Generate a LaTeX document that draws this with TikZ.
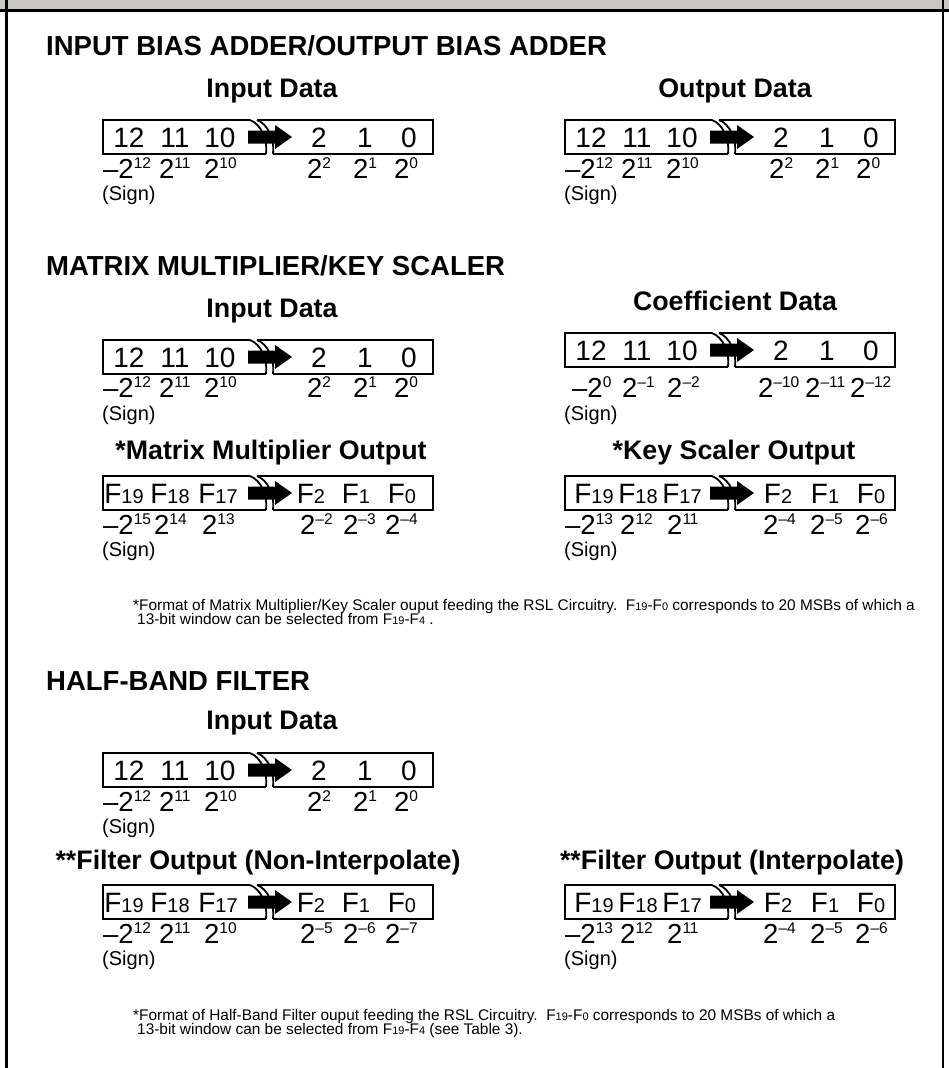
\documentclass[tikz,border=0pt]{standalone}
\usepackage{fontspec}
\setmainfont{Liberation Sans}
\definecolor{bandgray}{RGB}{201,198,198}
\tikzset{
  hd/.style={anchor=base west, font=\fontsize{27.5}{30}\selectfont\bfseries, inner sep=0pt},
  sub/.style={anchor=base, font=\fontsize{26.8}{28}\selectfont\bfseries, inner sep=0pt},
  dig/.style={anchor=base, font=\fontsize{28}{30}\selectfont, inner sep=0pt},
  wt/.style={anchor=base west, font=\fontsize{27.5}{30}\selectfont, inner sep=0pt},
  sgn/.style={anchor=base west, font=\fontsize{20}{22}\selectfont, inner sep=0pt},
  note/.style={anchor=base west, font=\fontsize{15.4}{17}\selectfont, inner sep=0pt},
  boxline/.style={line width=2pt},
  curveline/.style={line width=1.8pt},
}
\newcommand\wtxt[2]{#1\raisebox{9.5pt}{\fontsize{15.5}{16}\selectfont #2}}
\newcommand\fbit[1]{F{\fontsize{20}{20}\selectfont #1}}
\newcommand\fsm[1]{F{\fontsize{11}{11}\selectfont #1}}
% box outline with break and arrow: #1 x0, #2 centre y
\newcommand\bitbox[2]{%
  \begin{scope}[shift={(#1,#2)}]
    \draw[boxline] (147,-17) -- (0,-17) -- (0,17) -- (163,17);
    \draw[boxline] (154,-17) -- (330,-17) -- (330,17) -- (170,17);
    \draw[curveline] (147,-17) .. controls (158,-13) and (165,3) .. (163,17);
    \draw[curveline] (154,-17) .. controls (165,-13) and (172,3) .. (170,17);
    \fill (145,-6.5) -- (172,-6.5) -- (172,-12) -- (189,0) -- (172,12) -- (172,6.5) -- (145,6.5) -- cycle;
  \end{scope}}
% number row: #1 prefix, #2 x0, #3 centre y
\newcommand\numrow[3]{%
  \foreach \r/\t [count=\i] in {26/12,72/11,117/10,216/2,262/1,306/0}
    \node[dig] (#1\i) at ({#2+\r},{#3+10}) {\t};}
% F row: #1 prefix, #2 x0, #3 centre y, #4 list pos/label
\newcommand\frow[4]{%
  \foreach \r/\t [count=\i] in {#4}
    \node[dig] (#1\i) at ({#2+\r},{#3+10}) {\fbit{\t}};}
% weight row: #1 prefix, #2 x0, #3 baseline y, #4 list pos/base/sup
\newcommand\wtrow[4]{%
  \foreach \r/\b/\s [count=\i] in {#4}
    \node[wt] (#1\i) at ({#2+\r},#3) {\wtxt{\b}{\s}};}
\begin{document}
\begin{tikzpicture}[x=1pt,y=-1pt]
\useasboundingbox (0,0) rectangle (949,1068);
% frame
\fill[bandgray] (0,0) rectangle (949,9);
\draw[line width=3pt] (0,10.5) -- (949,10.5);
\draw[line width=2.5pt] (6.5,0) -- (6.5,1068);
\draw[line width=2.5pt] (943,0) -- (943,1068);

% ---------- section 1
\node[hd] (h1) at (46,55) {INPUT BIAS ADDER/OUTPUT BIAS ADDER};
\node[sub] (s1a) at (272,97) {Input Data};
\node[sub] (s1b) at (735,97) {Output Data};
\bitbox{103}{137}
\numrow{s1an}{103}{137}
\wtrow{s1aw}{103}{178}{0/–2/12,56/2/11,101/2/10,204/2/2,250/2/1,291/2/0}
\node[sgn] (s1as) at (102,200) {(Sign)};
\bitbox{565}{137}
\numrow{s1bn}{565}{137}
\wtrow{s1bw}{565}{178}{0/–2/12,56/2/11,101/2/10,204/2/2,250/2/1,291/2/0}
\node[sgn] (s1bs) at (564,200) {(Sign)};

% ---------- section 2
\node[hd] (h2) at (46,275) {MATRIX MULTIPLIER/KEY SCALER};
\node[sub] (s2a) at (272,317) {Input Data};
\node[sub] (s2b) at (735,310) {Coefficient Data};
\bitbox{103}{357}
\numrow{s2an}{103}{357}
\wtrow{s2aw}{103}{397}{0/–2/12,56/2/11,101/2/10,204/2/2,250/2/1,291/2/0}
\node[sgn] (s2as) at (102,420) {(Sign)};
\bitbox{565}{350}
\numrow{s2bn}{565}{350}
\wtrow{s2bw}{565}{397}{7/–2/0,57/2/–1,102/2/–2,193/2/–10,240/2/–11,285/2/–12}
\node[sgn] (s2bs) at (564,420) {(Sign)};

\node[sub] (s2c) at (271,459) {*Matrix Multiplier Output};
\node[sub] (s2d) at (734,459) {*Key Scaler Output};
\bitbox{103}{493}
\frow{s2cn}{103}{493}{21/19,67/18,115/17,208/2,253/1,299/0}
\wtrow{s2cw}{103}{534}{0/–2/15,51/2/14,99/2/13,197/2/–2,240/2/–3,282/2/–4}
\node[sgn] (s2cs) at (102,556) {(Sign)};
\bitbox{565}{493}
\frow{s2dn}{565}{493}{29/19,73/18,117/17,213/2,260/1,306/0}
\wtrow{s2dw}{565}{534}{0/–2/13,55/2/12,102/2/11,198/2/–4,245/2/–5,290/2/–6}
\node[sgn] (s2ds) at (564,556) {(Sign)};

\node[note] (n1a) at (133,610) {*Format of Matrix Multiplier/Key Scaler ouput feeding the RSL Circuitry.\ \ \fsm{19}-\fsm{0} corresponds to 20 MSBs of which a};
\node[note] (n1b) at (137,624) {13-bit window can be selected from \fsm{19}-\fsm{4} .};

% ---------- section 3
\node[hd] (h3) at (46,690) {HALF-BAND FILTER};
\node[sub] (s3a) at (272,729) {Input Data};
\bitbox{103}{770}
\numrow{s3an}{103}{770}
\wtrow{s3aw}{103}{811}{0/–2/12,56/2/11,101/2/10,204/2/2,250/2/1,291/2/0}
\node[sgn] (s3as) at (102,833) {(Sign)};

\node[sub] (s3c) at (258,869) {**Filter Output (Non-Interpolate)};
\node[sub] (s3d) at (732,869) {**Filter Output (Interpolate)};
\bitbox{103}{902}
\frow{s3cn}{103}{902}{21/19,67/18,115/17,208/2,253/1,299/0}
\wtrow{s3cw}{103}{943}{0/–2/12,56/2/11,101/2/10,197/2/–5,240/2/–6,282/2/–7}
\node[sgn] (s3cs) at (102,965) {(Sign)};
\bitbox{565}{902}
\frow{s3dn}{565}{902}{29/19,73/18,117/17,213/2,260/1,306/0}
\wtrow{s3dw}{565}{943}{0/–2/13,55/2/12,102/2/11,198/2/–4,245/2/–5,290/2/–6}
\node[sgn] (s3ds) at (564,965) {(Sign)};

\node[note] (n2a) at (133,1020) {*Format of Half-Band Filter ouput feeding the RSL Circuitry.\ \ \fsm{19}-\fsm{0} corresponds to 20 MSBs of which a};
\node[note] (n2b) at (137,1034) {13-bit window can be selected from \fsm{19}-\fsm{4} (see Table 3).};
\end{tikzpicture}
\end{document}
